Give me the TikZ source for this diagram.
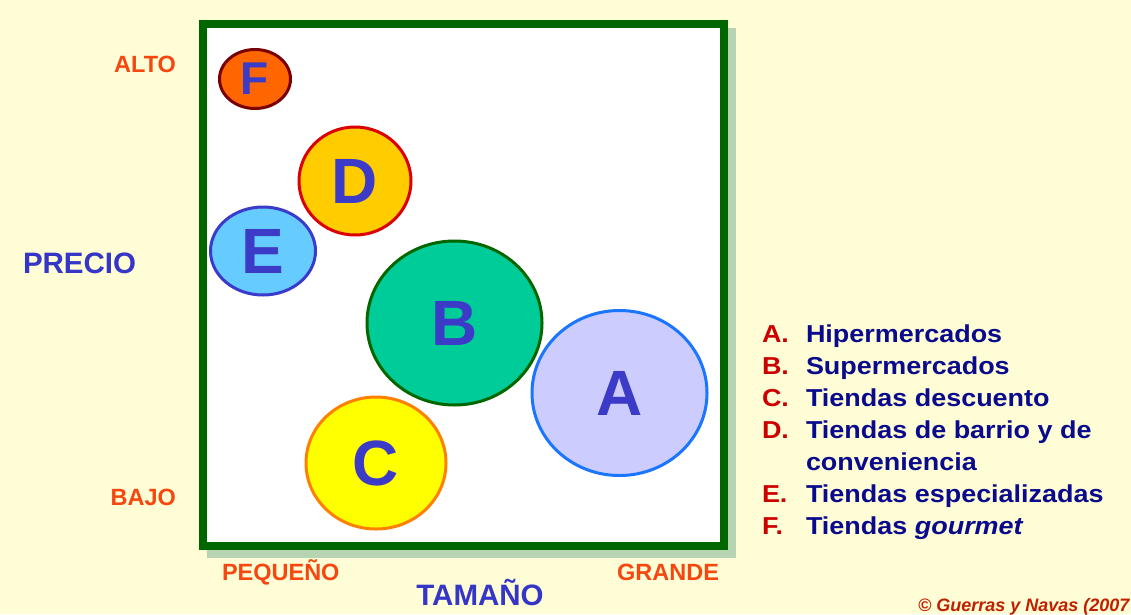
\documentclass[tikz,border=0pt]{standalone}
\usepackage{fontspec}
\setmainfont{Liberation Sans}
\newfontfamily\lgfont[FakeStretch=1.1]{Liberation Sans}
\usetikzlibrary{shapes.geometric}
\definecolor{bg}{HTML}{FFFDD5}
\definecolor{boxgreen}{HTML}{006600}
\definecolor{shadowgreen}{HTML}{B6D3B2}
\definecolor{letterblue}{HTML}{3B3BC8}
\definecolor{axisorange}{HTML}{F5470F}
\definecolor{axisblue}{HTML}{3535C8}
\definecolor{lgred}{HTML}{CC0000}
\definecolor{lgnavy}{HTML}{0A0A8C}
\definecolor{copyred}{HTML}{C02000}
\definecolor{fF}{HTML}{FF6600}\definecolor{dF}{HTML}{7A0000}
\definecolor{fD}{HTML}{FFCC00}\definecolor{dD}{HTML}{DD0000}
\definecolor{fE}{HTML}{66CCFF}\definecolor{dE}{HTML}{3A3ACC}
\definecolor{fB}{HTML}{00CC99}\definecolor{dB}{HTML}{006600}
\definecolor{fA}{HTML}{CCCCFF}\definecolor{dA}{HTML}{1A75FF}
\definecolor{fC}{HTML}{FFFF00}\definecolor{dC}{HTML}{FF8000}
\tikzset{
  every node/.style={inner sep=0pt, outer sep=0pt},
  bubble/.style={ellipse, line width=3pt, text=letterblue,
    font=\fontsize{64}{64}\selectfont\bfseries},
  axislbl/.style={text=axisorange, font=\fontsize{23.5}{24}\selectfont\bfseries},
  axistitle/.style={text=axisblue, font=\fontsize{29.5}{30}\selectfont\bfseries},
  lgletter/.style={anchor=base west, text=lgred, font=\lgfont\fontsize{24.5}{26}\selectfont\bfseries},
  lgtext/.style={anchor=base west, text=lgnavy, font=\lgfont\fontsize{24.5}{26}\selectfont\bfseries},
}
\begin{document}
\begin{tikzpicture}[x=1pt,y=-1pt]
\fill[bg] (0,0) rectangle (1131,614);
\useasboundingbox (0,0) rectangle (1131,614);
% frame with shadow
\fill[shadowgreen] (207,28) rectangle (736,558);
\node[draw=boxgreen, fill=white, line width=7.5pt, minimum width=521pt, minimum height=522pt] (box) at (463.5,285) {};
% bubbles
\node[bubble, draw=dF, fill=fF, minimum width=71pt, minimum height=59pt, font=\fontsize{46}{46}\selectfont\bfseries] (F) at (255,79) {F};
\node[bubble, draw=dD, fill=fD, minimum width=112pt, minimum height=108pt] (D) at (355,181) {D};
\node[bubble, draw=dE, fill=fE, minimum width=105pt, minimum height=88pt] (E) at (263,251) {E};
\node[bubble, draw=dB, fill=fB, minimum width=175pt, minimum height=164pt] (B) at (454.5,323) {B};
\node[bubble, draw=dA, fill=fA, minimum width=175pt, minimum height=165pt] (A) at (619.5,393) {A};
\node[bubble, draw=dC, fill=fC, minimum width=140pt, minimum height=132pt] (C) at (376,463) {C};
% axis labels
\node[axislbl, anchor=base east] (alto) at (176,72) {ALTO};
\node[axislbl, anchor=base east] (bajo) at (176,505) {BAJO};
\node[axistitle, anchor=base west] (precio) at (23,273) {PRECIO};
\node[axislbl, anchor=base west] (peq) at (222,580) {PEQUEÑO};
\node[axislbl, anchor=base east] (grande) at (719,580) {GRANDE};
\node[axistitle, anchor=base] (tamano) at (480,605) {TAMAÑO};
% legend
\node[lgletter] (lA) at (762,342) {A.};
\node[lgtext] (tA) at (806,342) {Hipermercados};
\node[lgletter] (lB) at (762,374) {B.};
\node[lgtext] (tB) at (806,374) {Supermercados};
\node[lgletter] (lC) at (762,406) {C.};
\node[lgtext] (tC) at (806,406) {Tiendas descuento};
\node[lgletter] (lD) at (762,438) {D.};
\node[lgtext] (tD) at (806,438) {Tiendas de barrio y de};
\node[lgtext] (tD2) at (806,470) {conveniencia};
\node[lgletter] (lE) at (762,502) {E.};
\node[lgtext] (tE) at (806,502) {Tiendas especializadas};
\node[lgletter] (lF) at (762,534) {F.};
\node[lgtext] (tF) at (806,534) {Tiendas \textit{gourmet}};
% copyright
\node[anchor=base west, text=copyred, font=\fontsize{18}{18}\selectfont\bfseries\itshape] (copy) at (918,611) {©\ Guerras y Navas (2007};
\end{tikzpicture}
\end{document}
